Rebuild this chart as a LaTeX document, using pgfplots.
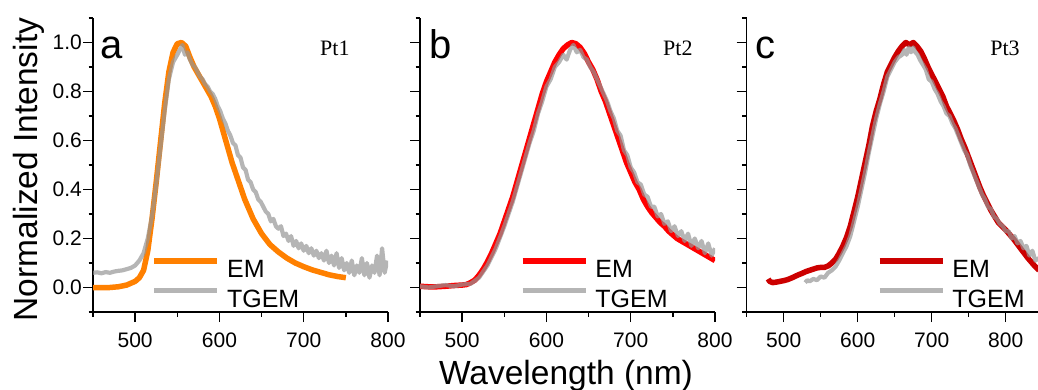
\documentclass[border=0pt]{standalone}
\usepackage{pgfplots}
\pgfplotsset{compat=1.18}
\usepackage{fontspec}
\setmainfont{Liberation Sans}
\newfontfamily\timesfont{Liberation Serif}
\definecolor{emorange}{RGB}{255,128,0}
\definecolor{emred}{RGB}{255,0,0}
\definecolor{emdark}{RGB}{204,0,0}
\definecolor{tggrey}{RGB}{150,150,150}
\pgfplotsset{
  panel/.style={
    scale only axis, height=294pt,
    ymin=-0.1, ymax=1.1,
    ytick={0,0.2,0.4,0.6,0.8,1.0},
    minor ytick={-0.1,0.1,0.3,0.5,0.7,0.9,1.1},
    xtick={500,600,700,800},
    minor xtick={450,550,650,750},
    axis x line*=bottom, axis y line*=left,
    axis line style={line width=1.5pt,-},
    tick align=outside,
    major tick length=10pt, minor tick length=4.5pt,
    every tick/.style={black,line width=1.5pt},
    tick label style={font=\fontsize{21}{21}\selectfont},
    /pgf/number format/assume math mode=true,
    yticklabel style={/pgf/number format/fixed,/pgf/number format/fixed zerofill,/pgf/number format/precision=1,inner xsep=1pt},
    xticklabel style={inner ysep=11pt},
    legend cell align=left,
    legend style={draw=none,fill=none,inner sep=0pt,outer sep=0pt,
      font=\fontsize{25}{25}\selectfont,
      nodes={inner sep=0pt},row sep=9pt},
    legend image code/.code={\draw[##1] (0pt,9pt) -- (63pt,9pt); \path (70pt,0pt);},
  },
  em/.style={line width=5.5pt, line join=round},
  tg/.style={tggrey, draw opacity=0.7, line width=4.2pt, line join=round},
}
\begin{document}
\begin{tikzpicture}
\useasboundingbox (0pt,0pt) rectangle (1038pt,389pt);
% ---------- panel a
\begin{axis}[panel, at={(93pt,77pt)}, anchor=south west, width=295pt,
  xmin=450, xmax=800,
  legend style={at={(axis cs:519.5,-0.088)},anchor=south west}]
\addplot[em, emorange] coordinates {
(450,0.00)(460,0.00)(470,0.00)(480,0.003)(490,0.01)(500,0.025)(505,0.04)(510,0.07)
(515,0.15)(520,0.28)(525,0.43)(530,0.59)(535,0.75)(540,0.88)(545,0.96)(550,0.995)
(555,1.00)(560,0.985)(565,0.94)(570,0.90)(575,0.87)(580,0.84)(585,0.81)(590,0.78)
(595,0.74)(600,0.69)(605,0.63)(610,0.57)(615,0.51)(620,0.46)(625,0.41)(630,0.36)
(635,0.32)(640,0.28)(645,0.25)(650,0.22)(660,0.175)(670,0.145)(680,0.12)(690,0.10)
(700,0.085)(710,0.072)(720,0.062)(730,0.052)(740,0.045)(750,0.04)};
\addlegendentry{EM}
\addplot[tg] coordinates {
(450,0.06)(455,0.062)(460,0.058)(465,0.063)(470,0.06)(475,0.065)(480,0.068)(485,0.07)
(490,0.075)(495,0.08)(500,0.09)(505,0.11)(510,0.14)(515,0.20)(520,0.29)(525,0.42)
(530,0.57)(535,0.72)(540,0.85)(545,0.92)(550,0.95)(553,0.97)(556,0.99)(559,0.95)
(562,0.96)(565,0.93)(568,0.91)(571,0.90)(574,0.88)(577,0.86)(580,0.85)(583,0.83)
(586,0.82)(589,0.80)(592,0.79)(595,0.77)(598,0.74)(601,0.72)(604,0.69)(607,0.67)
(610,0.64)(613,0.62)(616,0.59)(619,0.58)(622,0.54)(625,0.53)(628,0.49)(631,0.48)
(634,0.44)(637,0.43)(640,0.40)(643,0.39)(646,0.36)(649,0.35)(652,0.33)(655,0.31)
(658,0.30)(661,0.27)(664,0.28)(667,0.25)(670,0.24)(673,0.25)(676,0.21)(679,0.22)
(682,0.19)(685,0.21)(688,0.17)(691,0.19)(694,0.16)(697,0.18)(700,0.15)(703,0.17)
(706,0.14)(709,0.16)(712,0.13)(715,0.15)(718,0.12)(721,0.14)(724,0.11)(727,0.15)
(730,0.10)(733,0.13)(736,0.09)(739,0.14)(742,0.08)(745,0.12)(748,0.07)(751,0.10)
(754,0.06)(757,0.11)(760,0.05)(763,0.09)(766,0.06)(769,0.12)(772,0.05)(775,0.10)
(778,0.04)(781,0.09)(784,0.06)(787,0.13)(790,0.05)(793,0.16)(796,0.06)(799,0.11)};
\addlegendentry{TGEM}
\node[anchor=base west,font=\fontsize{40}{40}\selectfont] at (axis cs:455,0.935) {a};
\node[anchor=base,font=\timesfont\fontsize{22}{22}\selectfont] at (axis cs:737,0.947) {Pt1};
\end{axis}
% ---------- panel b
\begin{axis}[panel, at={(420pt,77pt)}, anchor=south west, width=295pt,
  xmin=450, xmax=800, yticklabels={},
  legend style={at={(axis cs:568.6,-0.088)},anchor=south west}]
\addplot[em, emred] coordinates {
(450,0.005)(460,0.003)(470,0.003)(480,0.005)(490,0.008)(500,0.01)(505,0.012)(510,0.02)
(515,0.03)(520,0.05)(525,0.075)(530,0.105)(535,0.14)(540,0.18)(545,0.22)(550,0.27)
(555,0.32)(560,0.37)(565,0.43)(570,0.49)(575,0.55)(580,0.61)(585,0.67)(590,0.73)
(595,0.79)(600,0.84)(605,0.88)(610,0.92)(615,0.95)(620,0.975)(625,0.99)(630,1.00)
(635,0.995)(640,0.98)(645,0.955)(650,0.92)(655,0.89)(660,0.85)(665,0.80)(670,0.76)
(675,0.71)(680,0.66)(685,0.61)(690,0.56)(695,0.51)(700,0.47)(705,0.43)(710,0.40)
(715,0.36)(720,0.33)(725,0.305)(730,0.285)(735,0.265)(740,0.25)(745,0.23)(750,0.215)
(755,0.20)(760,0.19)(770,0.17)(780,0.15)(790,0.13)(800,0.11)};
\addlegendentry{EM}
\addplot[tg] coordinates {
(450,0.005)(460,0.0)(470,0.005)(480,0.01)(490,0.005)(500,0.012)(510,0.015)(520,0.04)
(530,0.09)(540,0.16)(550,0.25)(555,0.30)(560,0.35)(565,0.41)(570,0.47)(575,0.53)
(580,0.59)(585,0.64)(590,0.71)(595,0.76)(600,0.82)(605,0.85)(610,0.90)(615,0.92)
(620,0.95)(624,0.93)(628,0.97)(632,0.99)(636,0.96)(640,0.97)(644,0.94)(648,0.93)
(652,0.90)(656,0.88)(660,0.85)(664,0.82)(668,0.79)(672,0.76)(676,0.72)(680,0.69)
(684,0.64)(688,0.62)(692,0.56)(696,0.54)(700,0.49)(704,0.47)(708,0.43)(712,0.42)
(716,0.38)(720,0.37)(724,0.33)(728,0.33)(732,0.29)(736,0.30)(740,0.26)(744,0.27)
(748,0.23)(752,0.25)(756,0.21)(760,0.23)(764,0.19)(768,0.22)(772,0.17)(776,0.20)
(780,0.16)(784,0.19)(788,0.14)(792,0.18)(796,0.13)(800,0.16)};
\addlegendentry{TGEM}
\node[anchor=base west,font=\fontsize{40}{40}\selectfont] at (axis cs:457,0.935) {b};
\node[anchor=base,font=\timesfont\fontsize{22}{22}\selectfont] at (axis cs:756,0.947) {Pt2};
\end{axis}
% ---------- panel c
\begin{axis}[panel, at={(746.7pt,77pt)}, anchor=south west, width=292.3pt,
  xmin=450, xmax=845, yticklabels={},
  legend style={at={(axis cs:626,-0.088)},anchor=south west}]
\addplot[em, emdark] coordinates {
(479,0.035)(481,0.025)(485,0.02)(490,0.022)(495,0.025)(500,0.028)(505,0.032)(510,0.038)
(515,0.045)(520,0.052)(525,0.058)(530,0.065)(535,0.07)(540,0.075)(545,0.08)(550,0.082)
(555,0.082)(560,0.088)(565,0.10)(570,0.115)(575,0.14)(580,0.17)(585,0.205)(590,0.25)
(595,0.31)(600,0.37)(605,0.44)(610,0.51)(615,0.58)(620,0.66)(625,0.72)(630,0.77)
(635,0.83)(640,0.88)(645,0.91)(650,0.94)(655,0.965)(660,0.985)(665,1.00)(670,0.99)
(675,1.00)(680,0.985)(685,0.965)(690,0.935)(695,0.90)(700,0.87)(705,0.84)(710,0.81)
(715,0.78)(720,0.74)(725,0.71)(730,0.68)(735,0.645)(740,0.605)(745,0.57)(750,0.53)
(755,0.49)(760,0.45)(765,0.41)(770,0.375)(775,0.345)(780,0.315)(785,0.29)(790,0.265)
(795,0.25)(800,0.235)(810,0.20)(820,0.16)(830,0.12)(840,0.085)(845,0.07)};
\addlegendentry{EM}
\addplot[tg] coordinates {
(529,0.02)(532,0.03)(535,0.025)(540,0.035)(545,0.03)(550,0.045)(555,0.04)(560,0.06)
(565,0.07)(570,0.085)(575,0.11)(580,0.14)(585,0.17)(590,0.21)(595,0.27)(600,0.33)
(605,0.40)(610,0.47)(615,0.55)(620,0.62)(625,0.69)(630,0.75)(635,0.80)(640,0.86)
(645,0.89)(650,0.92)(655,0.94)(660,0.95)(663,0.97)(666,0.95)(669,0.98)(672,0.96)
(675,0.98)(678,0.96)(681,0.95)(684,0.93)(688,0.91)(692,0.89)(696,0.85)(700,0.84)
(704,0.81)(708,0.79)(712,0.76)(716,0.74)(720,0.71)(724,0.70)(728,0.67)(732,0.65)
(736,0.62)(740,0.59)(744,0.56)(748,0.54)(752,0.50)(756,0.47)(760,0.44)(764,0.41)
(768,0.38)(772,0.36)(776,0.33)(780,0.32)(784,0.29)(788,0.28)(792,0.26)(796,0.25)
(800,0.23)(804,0.23)(808,0.20)(812,0.21)(816,0.18)(820,0.19)(824,0.16)(828,0.17)
(832,0.13)(836,0.15)(840,0.11)(845,0.12)};
\addlegendentry{TGEM}
\node[anchor=base west,font=\fontsize{40}{40}\selectfont] at (axis cs:457,0.935) {c};
\node[anchor=base,font=\timesfont\fontsize{22}{22}\selectfont] at (axis cs:799,0.947) {Pt3};
\end{axis}
\node[rotate=90,anchor=base,font=\fontsize{33.5}{33.5}\selectfont] at (37pt,219.5pt) {Normalized Intensity};
\node[anchor=base,font=\fontsize{33.5}{33.5}\selectfont] at (566pt,5pt) {Wavelength (nm)};
\end{tikzpicture}
\end{document}
